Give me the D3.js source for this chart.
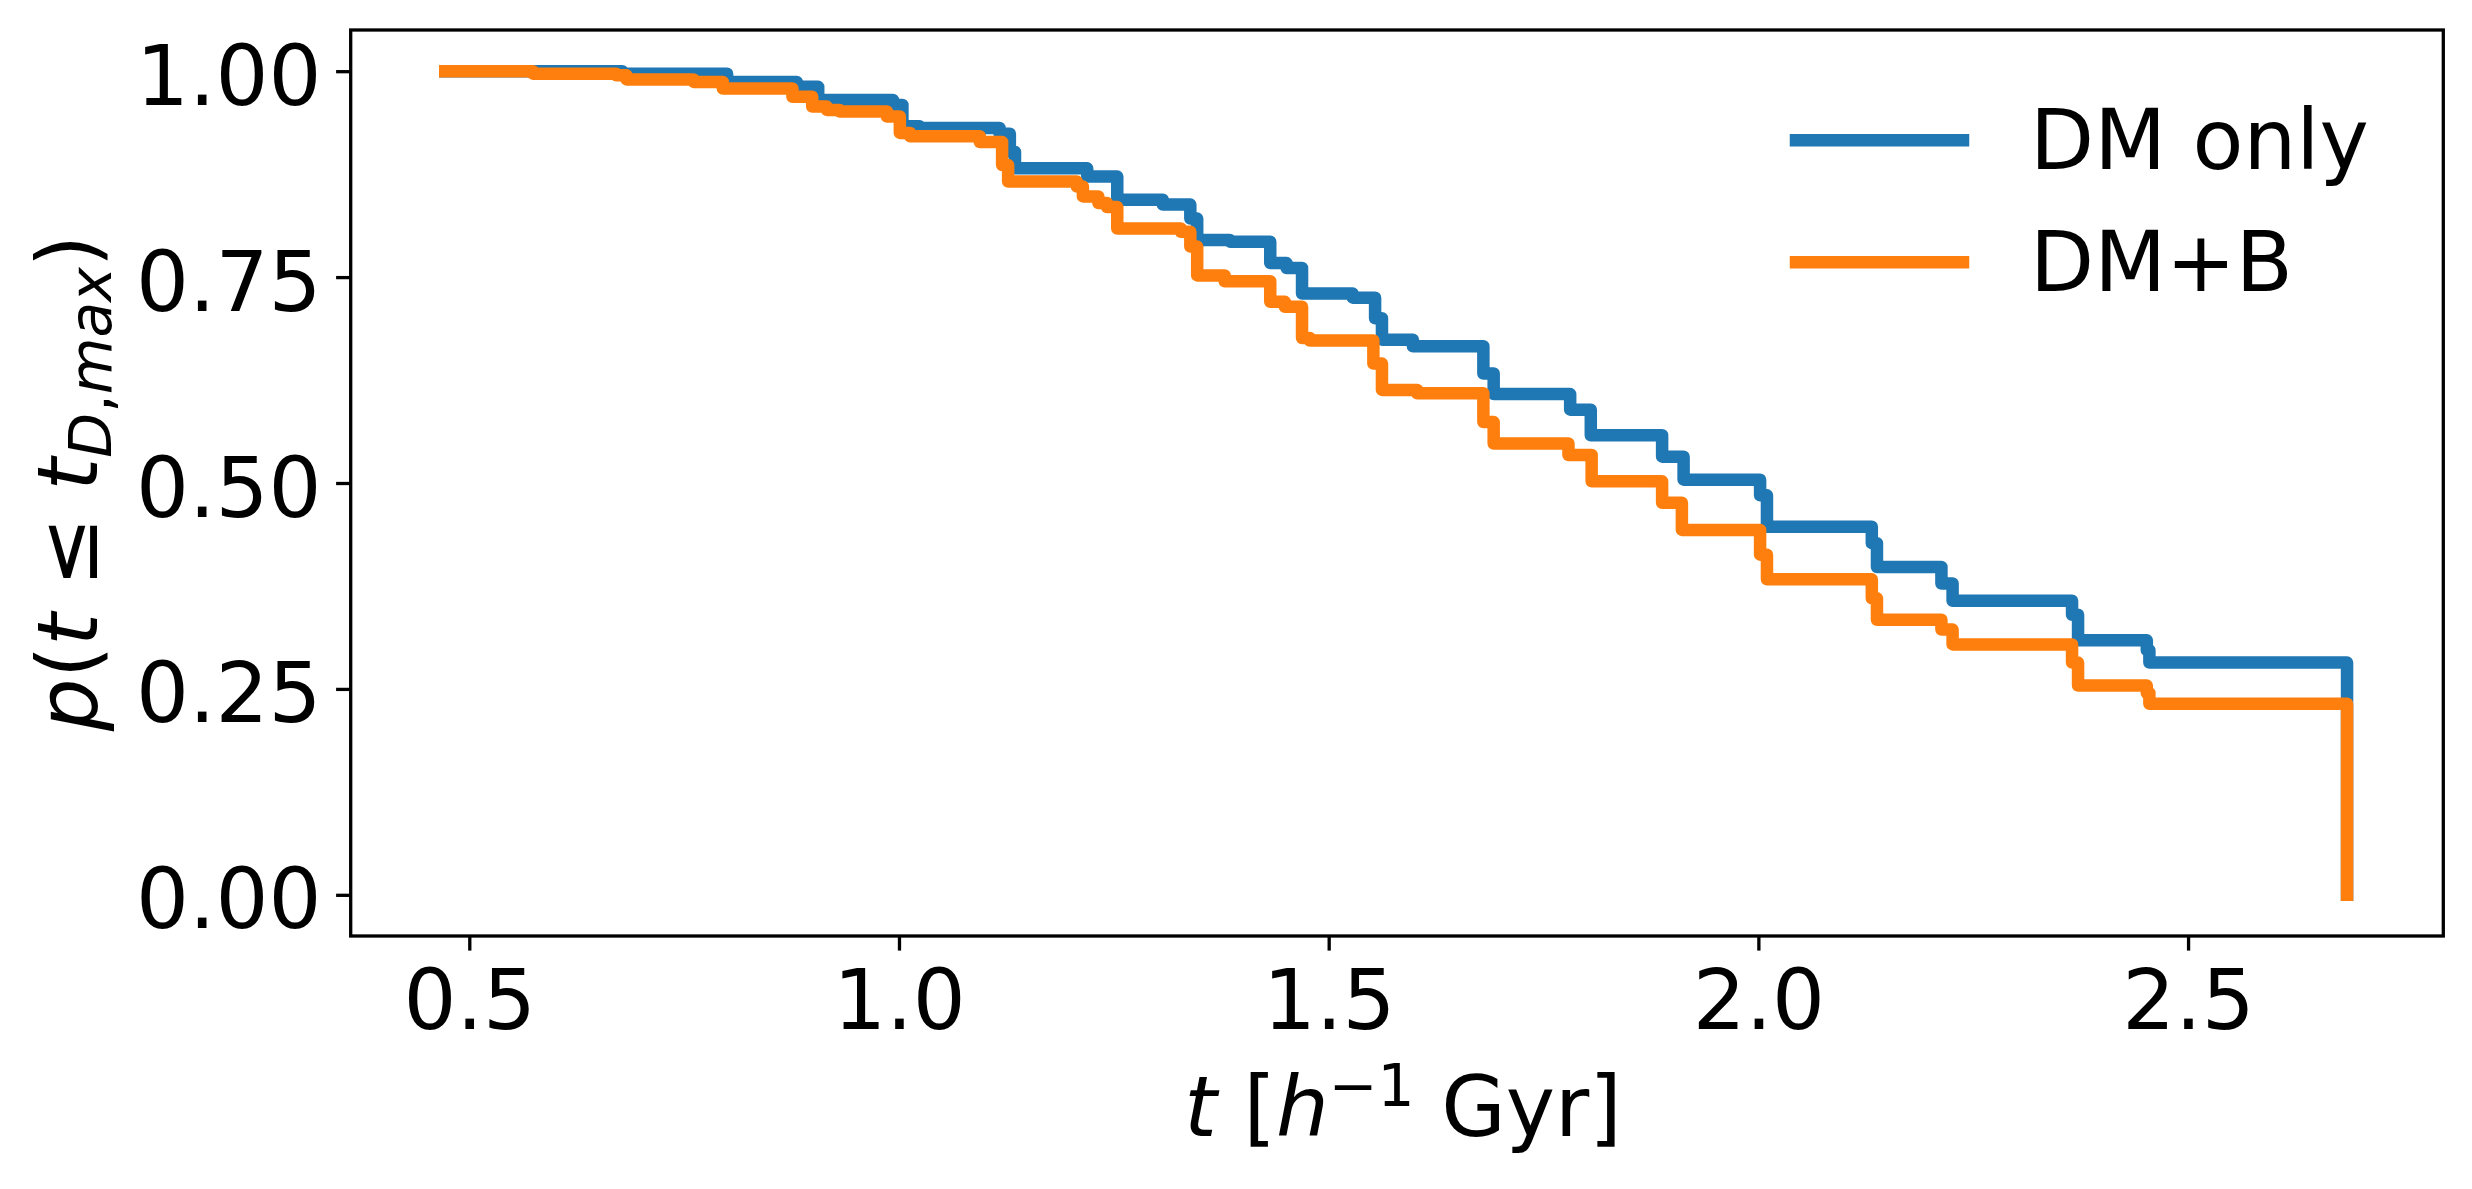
<!DOCTYPE html>
<html>
<head>
<meta charset="utf-8">
<script src="https://cdn.jsdelivr.net/npm/d3@7"></script>
<style>
  html, body { margin: 0; padding: 0; background: #fff; }
  svg { display: block; }
  text { font-family: "DejaVu Sans", sans-serif; fill: #000; }
</style>
</head>
<body>
<svg id="chart" width="2472" height="1189"></svg>
<script>
// ---- data ----
const seriesNames = ["DM only", "DM+B"];
const seriesColors = ["#1f77b4", "#ff7f0e"];

// Step points: [t, p] — p holds from t until the next t
const dmOnlyT = [0.472, 0.678, 0.800, 0.881, 0.906, 0.993, 1.004, 1.024, 1.117, 1.129, 1.135,
  1.219, 1.254, 1.307, 1.339, 1.347, 1.385, 1.432, 1.451, 1.469, 1.528, 1.554, 1.562, 1.598,
  1.680, 1.692, 1.781, 1.805, 1.888, 1.913, 2.002, 2.010, 2.132, 2.138, 2.213, 2.226, 2.365,
  2.372, 2.452, 2.455, 2.685];
const dmOnlyP = [1.000, 0.997, 0.987, 0.981, 0.965, 0.959, 0.933, 0.931, 0.924, 0.902, 0.882,
  0.872, 0.844, 0.838, 0.821, 0.795, 0.793, 0.767, 0.761, 0.730, 0.725, 0.700, 0.674, 0.666,
  0.633, 0.608, 0.589, 0.558, 0.532, 0.504, 0.485, 0.447, 0.427, 0.398, 0.378, 0.357, 0.340,
  0.309, 0.297, 0.282, 0.000];

const dmBT = [0.472, 0.574, 0.671, 0.683, 0.761, 0.795, 0.876, 0.899, 0.916, 0.931, 0.986,
  1.001, 1.013, 1.094, 1.120, 1.127, 1.207, 1.214, 1.232, 1.242, 1.254, 1.328, 1.339, 1.347,
  1.379, 1.432, 1.449, 1.469, 1.478, 1.552, 1.562, 1.603, 1.680, 1.692, 1.779, 1.806, 1.888,
  1.911, 2.002, 2.010, 2.132, 2.138, 2.213, 2.226, 2.365, 2.372, 2.452, 2.455, 2.685];
const dmBP = [1.000, 0.997, 0.995, 0.990, 0.987, 0.979, 0.969, 0.957, 0.953, 0.951, 0.945,
  0.925, 0.921, 0.914, 0.886, 0.866, 0.860, 0.848, 0.840, 0.835, 0.809, 0.805, 0.787, 0.752,
  0.745, 0.720, 0.714, 0.676, 0.673, 0.645, 0.613, 0.609, 0.574, 0.548, 0.534, 0.502, 0.476,
  0.443, 0.413, 0.383, 0.360, 0.334, 0.322, 0.304, 0.282, 0.254, 0.245, 0.232, 0.000];

const xTicks = [0.5, 1.0, 1.5, 2.0, 2.5];
const yTicks = [0.00, 0.25, 0.50, 0.75, 1.00];
const xDomain = [0.362, 2.797];
const yDomain = [-0.05, 1.05];

// ---- layout ----
const svg = d3.select("#chart");
const L = 350.7, R = 2443.3, T = 30, B = 936;
const FS = 83.3;
const x = d3.scaleLinear().domain(xDomain).range([L, R]);
const y = d3.scaleLinear().domain(yDomain).range([B, T]);

const series = [
  dmOnlyT.map((t, i) => [t, dmOnlyP[i]]),
  dmBT.map((t, i) => [t, dmBP[i]])
];

const line = d3.line().x(d => x(d[0])).y(d => y(d[1])).curve(d3.curveStepAfter);

svg.append("defs").append("clipPath").attr("id", "clip")
  .append("rect").attr("x", L).attr("y", T).attr("width", R - L).attr("height", B - T);

const plot = svg.append("g").attr("clip-path", "url(#clip)");
series.forEach((s, i) => {
  plot.append("path")
    .datum(s)
    .attr("d", line)
    .attr("fill", "none")
    .attr("stroke", seriesColors[i])
    .attr("stroke-width", 12.5)
    .attr("stroke-linejoin", "round")
    .attr("stroke-linecap", "square");
});

// axes
const xAxis = svg.append("g").attr("transform", `translate(0,${B})`)
  .call(d3.axisBottom(x).tickValues(xTicks).tickFormat(d3.format(".1f")).tickSize(14.6).tickSizeOuter(0));
xAxis.select(".domain").remove();
xAxis.selectAll(".tick line").attr("stroke", "#000").attr("stroke-width", 3.3);
xAxis.selectAll(".tick text").attr("dy", null).attr("y", 92.5)
  .style("font-size", FS + "px").style("font-family", "DejaVu Sans").attr("fill", "#000");

const yAxis = svg.append("g").attr("transform", `translate(${L},0)`)
  .call(d3.axisLeft(y).tickValues(yTicks).tickFormat(d3.format(".2f")).tickSize(14.6).tickSizeOuter(0));
yAxis.select(".domain").remove();
yAxis.selectAll(".tick line").attr("stroke", "#000").attr("stroke-width", 3.3);
yAxis.selectAll(".tick text").attr("dy", null).attr("y", 33).attr("x", -29.2)
  .style("font-size", FS + "px").style("font-family", "DejaVu Sans").attr("fill", "#000");

// spines
svg.append("rect").attr("x", L).attr("y", T).attr("width", R - L).attr("height", B - T)
  .attr("fill", "none").attr("stroke", "#000").attr("stroke-width", 3.3);

// x label: t [h^{-1} Gyr]
const xl = svg.append("text").attr("x", (L + R) / 2 + 6).attr("y", 1136)
  .attr("text-anchor", "middle").style("font-size", FS + "px");
xl.append("tspan").style("font-style", "italic").text("t");
xl.append("tspan").text(" [");
xl.append("tspan").style("font-style", "italic").text("h");
xl.append("tspan").attr("dy", -30).style("font-size", (FS * 0.7) + "px").text("\u22121");
xl.append("tspan").attr("dy", 30).text(" Gyr]");

// y label: p(t ≤ t_{D,max})
const yl = svg.append("text")
  .attr("transform", `translate(97,${(T + B) / 2}) rotate(-90)`)
  .attr("text-anchor", "middle").style("font-size", FS + "px");
yl.append("tspan").style("font-style", "italic").text("p");
yl.append("tspan").text("(");
yl.append("tspan").style("font-style", "italic").text("t");
yl.append("tspan").text(" \u2264 ");
yl.append("tspan").style("font-style", "italic").text("t");
yl.append("tspan").attr("dy", 14).style("font-size", (FS * 0.7) + "px").style("font-style", "italic").text("D");
yl.append("tspan").style("font-size", (FS * 0.7) + "px").text(",");
yl.append("tspan").style("font-size", (FS * 0.7) + "px").style("font-style", "italic").text("max");
yl.append("tspan").attr("dy", -14).text(")");

// legend
const legY = [140.3, 262.3];
seriesNames.forEach((name, i) => {
  svg.append("line").attr("x1", 1796).attr("x2", 1963)
    .attr("y1", legY[i]).attr("y2", legY[i])
    .attr("stroke", seriesColors[i]).attr("stroke-width", 12.5).attr("stroke-linecap", "square");
  svg.append("text").attr("x", 2030).attr("y", legY[i] + 29)
    .style("font-size", FS + "px").text(name);
});
</script>
</body>
</html>
